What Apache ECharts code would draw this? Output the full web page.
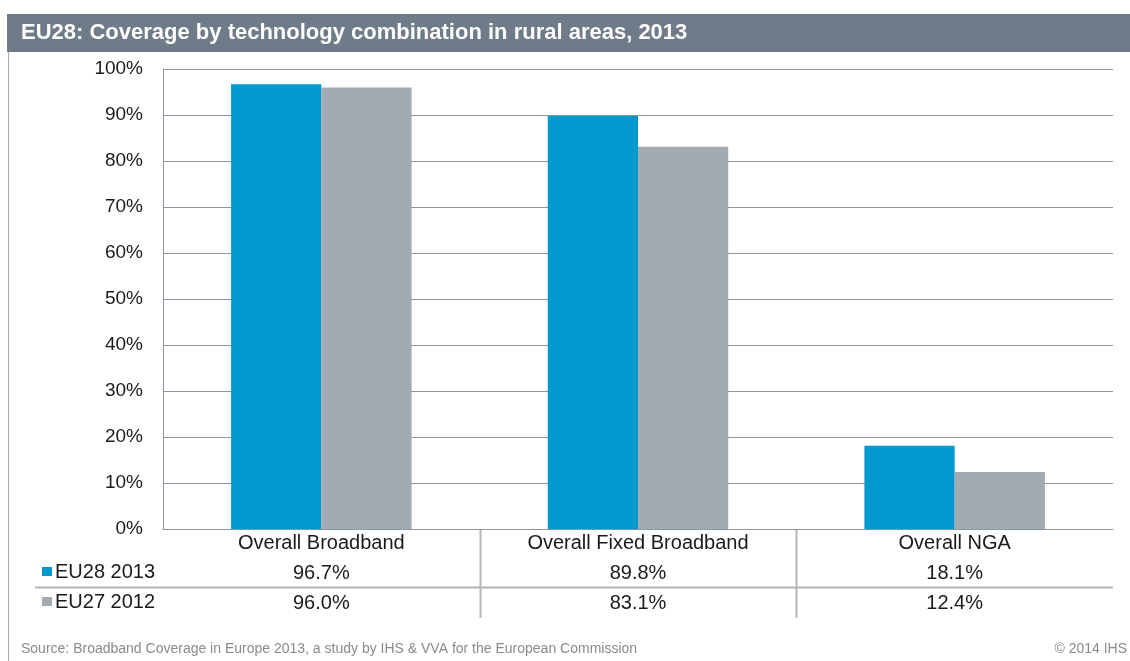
<!DOCTYPE html>
<html>
<head>
<meta charset="utf-8">
<script src="https://cdn.jsdelivr.net/npm/echarts@6/dist/echarts.min.js"></script>
<style>html,body{margin:0;padding:0;background:#fff}#c{width:1130px;height:661px}</style>
</head>
<body>
<div id="c"></div>
<script>
const categories = ['Overall Broadband', 'Overall Fixed Broadband', 'Overall NGA'];
const seriesNames = ['EU28 2013', 'EU27 2012'];
const eu28_2013 = [96.7, 89.8, 18.1];
const eu27_2012 = [96.0, 83.1, 12.4];
const yTicks = [0, 10, 20, 30, 40, 50, 60, 70, 80, 90, 100];
const colors = ['#0099cf', '#a2abb2'];
const titleText = 'EU28: Coverage by technology combination in rural areas, 2013';
const sourceText = 'Source: Broadband Coverage in Europe 2013, a study by IHS & VVA for the European Commission';
const copyrightText = '\u00a9 2014 IHS';

const FONT = 'Liberation Sans, Arial, sans-serif';
const TXT = '#1a1a1a';
const chart = echarts.init(document.getElementById('c'));
const fmt = v => v.toFixed(1) + '%';

function tableAxis(values, offset) {
  return {
    type: 'category', data: categories, position: 'bottom', offset: offset,
    axisLine: {show: false}, axisTick: {show: false},
    axisLabel: {formatter: (v, i) => fmt(values[i]), fontFamily: FONT, fontSize: 20, color: TXT, margin: 4}
  };
}

chart.setOption({
  animation: false,
  grid: {left: 163, right: 17, top: 69, bottom: 132},
  xAxis: [
    {
      type: 'category', data: categories, position: 'bottom',
      axisLine: {lineStyle: {color: '#8c96a1', width: 1}},
      axisTick: {show: false},
      axisLabel: {fontFamily: FONT, fontSize: 20, color: TXT, margin: 4}
    },
    tableAxis(eu28_2013, 30),
    tableAxis(eu27_2012, 60)
  ],
  yAxis: {
    type: 'value', min: yTicks[0], max: yTicks[yTicks.length - 1], interval: yTicks[1] - yTicks[0],
    axisLine: {show: true, lineStyle: {color: '#8c96a1'}},
    axisTick: {show: false},
    splitLine: {lineStyle: {color: '#8c96a1', width: 1}},
    axisLabel: {formatter: '{value}%', fontFamily: FONT, fontSize: 19, color: TXT, margin: 20}
  },
  series: [
    {name: seriesNames[0], type: 'bar', data: eu28_2013, barWidth: '28.5%', barGap: '0%', itemStyle: {color: colors[0]}},
    {name: seriesNames[1], type: 'bar', data: eu27_2012, barWidth: '28.5%', barGap: '0%', itemStyle: {color: colors[1]}}
  ]
});

// decorations: title bar, frame, table lines, row labels, footer
const x0 = chart.convertToPixel({xAxisIndex: 0}, categories[0]);
const x1 = chart.convertToPixel({xAxisIndex: 0}, categories[1]);
const step = x1 - x0;
const yZero = chart.convertToPixel({yAxisIndex: 0}, 0);
const gridRight = 1130 - 17;
const seps = [];
for (let i = 1; i < categories.length; i++) {
  const xs = Math.round(x0 + step * (i - 0.5)) + 0.5;
  seps.push({type: 'line', shape: {x1: xs, y1: yZero, x2: xs, y2: yZero + 89}, style: {stroke: '#b4b4b4', lineWidth: 2}});
}
const rowY = [yZero + 43, yZero + 73];
const rowLabels = [];
seriesNames.forEach((n, i) => {
  rowLabels.push({type: 'rect', shape: {x: 42, y: rowY[i] - 5, width: 10, height: 9}, style: {fill: colors[i]}});
  rowLabels.push({type: 'text', x: 55, y: rowY[i], style: {text: n, fontFamily: FONT, fontSize: 20, fill: TXT, verticalAlign: 'middle'}});
});

chart.setOption({
  graphic: [
    {type: 'rect', shape: {x: 7, y: 14, width: 1123, height: 38}, style: {fill: '#6f7b88'}},
    {type: 'text', x: 21, y: 33, style: {text: titleText, fontFamily: FONT, fontWeight: 'bold', fontSize: 22, fill: '#fff', verticalAlign: 'middle'}},
    {type: 'line', shape: {x1: 8.5, y1: 52, x2: 8.5, y2: 661}, style: {stroke: '#a8adb3', lineWidth: 1}},
    {type: 'line', shape: {x1: 35, y1: 587.5, x2: gridRight, y2: 587.5}, style: {stroke: '#b4b4b4', lineWidth: 2}},
    ...seps,
    ...rowLabels,
    {type: 'text', x: 21, y: 649, style: {text: sourceText, fontFamily: FONT, fontSize: 14, fill: '#8a8a8a', verticalAlign: 'middle'}},
    {type: 'text', x: 1127, y: 649, style: {text: copyrightText, fontFamily: FONT, fontSize: 14, fill: '#8a8a8a', verticalAlign: 'middle', align: 'right'}}
  ]
});
</script>
</body>
</html>
